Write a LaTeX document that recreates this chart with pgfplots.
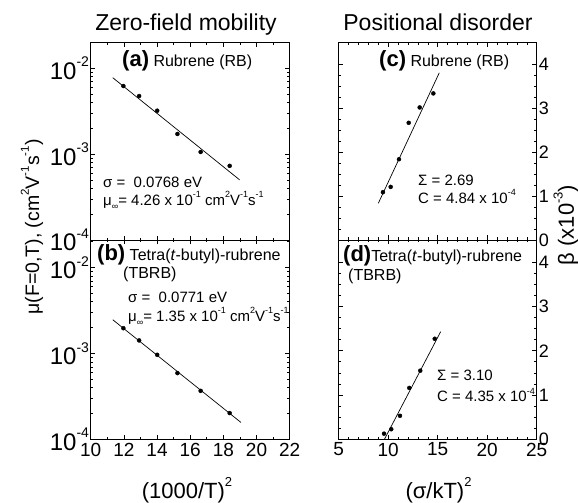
\documentclass[border=0pt]{standalone}
\usepackage{fontspec}
\setmainfont{Liberation Sans}
\usepackage{pgfplots}
\pgfplotsset{compat=1.18}
\newcommand{\fs}[1]{\fontsize{#1}{#1}\selectfont}
\newcommand{\sups}[2]{\raisebox{0.52em}{\fontsize{#1}{#1}\selectfont #2}}
\newcommand{\subs}[2]{\raisebox{-0.28em}{\fontsize{#1}{#1}\selectfont #2}}
\pgfplotsset{
  every axis/.append style={scale only axis, anchor=south west,
    axis line style={line width=0.8pt},
    tick style={black, line width=0.6pt},
    major tick length=4.5pt, minor tick length=2.5pt,
    tick align=inside, xtick pos=both, ytick pos=both,
    /pgf/number format/assume math mode=true},
  leftlog/.style={width=199pt, xmin=10, xmax=22, ymin=1e-4,
    xtick={10,12,...,22}, minor x tick num=1,
    ytick={1e-4,1e-3,1e-2},
    yticklabels={10\sups{14}{-4},10\sups{14}{-3},10\sups{14}{-2}},
    minor ytick={2e-4,3e-4,4e-4,5e-4,6e-4,7e-4,8e-4,9e-4,2e-3,3e-3,4e-3,5e-3,6e-3,7e-3,8e-3,9e-3,2e-2},
    yticklabel style={font=\fs{24}, inner sep=1.5pt},
    xticklabel style={font=\fs{19}}},
  rightlin/.style={width=198pt, xmin=5, xmax=25, ymin=0, ymax=4.5,
    xtick={5,10,...,25}, minor x tick num=4,
    ytick={0,1,2,3,4}, minor y tick num=3,
    yticklabel pos=right,
    yticklabel style={font=\fs{18}, inner sep=2pt},
    xticklabel style={font=\fs{19}}},
}
\begin{document}
\begin{tikzpicture}
\useasboundingbox (0pt,0pt) rectangle (578pt,503pt);
% (a)
\begin{axis}[ymode=log, leftlog, at={(90.7pt,263pt)}, height=197.5pt, ymax=2e-2, xticklabels={}]
\addplot[only marks, mark=*, mark size=2pt] coordinates {(11.97,6.22e-3) (12.92,4.76e-3) (14.01,3.21e-3) (15.23,1.72e-3) (16.63,1.06e-3) (18.38,7.31e-4)};
\addplot[no marks, line width=0.7pt] coordinates {(11.33,7.78e-3) (18.98,5.02e-4)};
\end{axis}
% (b)
\begin{axis}[ymode=log, leftlog, at={(90.7pt,63.5pt)}, height=199.5pt, ymax=2.09e-2]
\addplot[only marks, mark=*, mark size=2pt] coordinates {(11.97,1.97e-3) (12.92,1.42e-3) (14.01,9.66e-4) (15.23,5.92e-4) (16.63,3.68e-4) (18.38,2.03e-4)};
\addplot[no marks, line width=0.7pt] coordinates {(11.33,2.47e-3) (19.06,1.58e-4)};
\end{axis}
% (c)
\begin{axis}[rightlin, at={(338.7pt,263pt)}, height=197.5pt, xticklabels={}]
\addplot[only marks, mark=*, mark size=2pt] coordinates {(9.47,1.09) (10.25,1.21) (11.09,1.84) (12.07,2.67) (13.18,3.02) (14.56,3.34)};
\addplot[no marks, line width=0.7pt] coordinates {(9.0,0.836) (15.16,3.81)};
\end{axis}
% (d)
\begin{axis}[rightlin, at={(338.7pt,63.7pt)}, height=199.3pt]
\addplot[only marks, mark=*, mark size=2pt] coordinates {(9.58,0.127) (10.31,0.227) (11.19,0.53) (12.13,1.16) (13.24,1.55) (14.70,2.27)};
\addplot[no marks, line width=0.7pt] coordinates {(9.62,0) (15.3,2.43)};
\end{axis}
% titles
\node[anchor=base, font=\fs{23}] at (186pt,472pt) {Zero-field mobility};
\node[anchor=base, font=\fs{23}] at (438pt,472pt) {Positional disorder};
% axis labels
\node[anchor=base, font=\fs{22}] at (187pt,4.6pt) {(1000/T)\sups{13}{2}};
\node[anchor=base, font=\fs{22}] at (438.5pt,4.6pt) {(σ/kT)\sups{13}{2}};
\node[rotate=90, font=\fs{19.5}] at (32pt,276pt) {μ(F=0,T), (cm\sups{11.5}{2}V\sups{11.5}{-1}s\sups{11.5}{-1})};
\node[rotate=90, font=\fs{22}] at (566pt,278pt) {β (x10\sups{13}{-3})};
% panel texts
\node[anchor=base west, inner sep=0pt, font=\fs{16}] at (122pt,436pt) {{\fs{22}\bfseries (a)} Rubrene (RB)};
\node[anchor=base west, inner sep=0pt, font=\fs{15}] at (103pt,315.5pt) {σ =\ \ 0.0768 eV};
\node[anchor=base west, inner sep=0pt, font=\fs{15}] at (103pt,297.5pt) {μ\subs{9}{∞}= 4.26 x 10\sups{9}{-1} cm\sups{9}{2}V\sups{9}{-1}s\sups{9}{-1}};
\node[anchor=base west, inner sep=0pt, font=\fs{16}] at (97pt,242pt) {{\fs{22}\bfseries (b)} Tetra(\textit{t}-butyl)-rubrene};
\node[anchor=base west, inner sep=0pt, font=\fs{16}] at (123pt,224pt) {(TBRB)};
\node[anchor=base west, inner sep=0pt, font=\fs{15}] at (128pt,200pt) {σ =\ \ 0.0771 eV};
\node[anchor=base west, inner sep=0pt, font=\fs{15}] at (128pt,181.5pt) {μ\subs{9}{∞}= 1.35 x 10\sups{9}{-1} cm\sups{9}{2}V\sups{9}{-1}s\sups{9}{-1}};
\node[anchor=base west, inner sep=0pt, font=\fs{16}] at (379pt,436pt) {{\fs{22}\bfseries (c)} Rubrene (RB)};
\node[anchor=base west, inner sep=0pt, font=\fs{15}] at (418pt,317pt) {Σ = 2.69};
\node[anchor=base west, inner sep=0pt, font=\fs{15}] at (418pt,299.5pt) {C = 4.84 x 10\sups{9}{-4}};
\node[anchor=base west, inner sep=0pt, font=\fs{16}] at (343pt,241pt) {{\fs{22}\bfseries (d)}Tetra(\textit{t}-butyl)-rubrene};
\node[anchor=base west, inner sep=0pt, font=\fs{16}] at (348pt,222pt) {(TBRB)};
\node[anchor=base west, inner sep=0pt, font=\fs{15}] at (437pt,122pt) {Σ = 3.10};
\node[anchor=base west, inner sep=0pt, font=\fs{15}] at (437pt,101pt) {C = 4.35 x 10\sups{9}{-4}};
\end{tikzpicture}
\end{document}
